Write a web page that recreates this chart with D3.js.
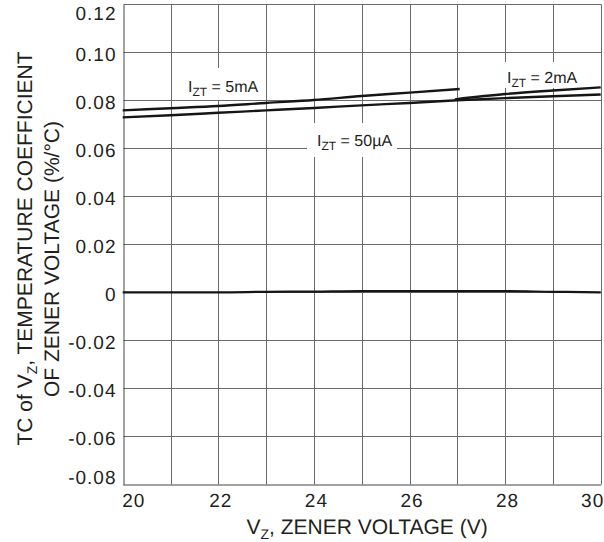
<!DOCTYPE html>
<html>
<head>
<meta charset="utf-8">
<script src="https://cdn.jsdelivr.net/npm/d3@7"></script>
<style>
  html, body { margin: 0; padding: 0; background: #fff; }
  svg { display: block; font-family: "Liberation Sans", Arial, sans-serif; }
  text { text-rendering: geometricPrecision; }
</style>
</head>
<body>
<svg id="chart" width="604" height="542"></svg>
<script>
// ---- data ----
const xTicks = [20, 22, 24, 26, 28, 30];
const yTicks = [-0.08, -0.06, -0.04, -0.02, 0, 0.02, 0.04, 0.06, 0.08, 0.10, 0.12];

const volts50uA = [20, 21, 22, 23, 24, 25, 26, 27, 28, 29, 30];
const tc50uA = [0.0729, 0.0738, 0.0748, 0.0758, 0.0768, 0.0779, 0.0789, 0.0800, 0.0809, 0.0817, 0.0824];

const volts5mA = [20, 21, 22, 23, 24, 25, 26, 27.05];
const tc5mA = [0.0758, 0.0767, 0.0776, 0.0789, 0.0801, 0.0818, 0.0832, 0.0847];

const volts2mA = [26.95, 28, 29, 30];
const tc2mA = [0.0804, 0.0826, 0.0841, 0.0854];

const voltsFlat = [20, 21, 22, 23, 24, 25, 26, 27, 28, 29, 30];
const tcFlat = [0, 0, 0, 0.0002, 0.0003, 0.0005, 0.0005, 0.0005, 0.0005, 0.0002, 0];

const labels = [
  { name: "5mA", x: 188, y: 92, box: [177, 68, 89, 32] },
  { name: "50µA", x: 317, y: 146, box: [307, 123, 90, 34] },
  { name: "2mA", x: 507, y: 83, box: [497, 62, 95, 26] },
];

// ---- layout ----
const plotLeft = 122.7, plotRight = 600.7, plotTop = 4.3, plotBottom = 484.3;
const tickFont = "19px";
const ink = "#231f20";

const svg = d3.select("#chart");

const x = d3.scaleLinear().domain([20, 30]).range([plotLeft, plotRight]);
const y = d3.scaleLinear().domain([-0.08, 0.12]).range([plotBottom, plotTop]);

const fmt = (d) => (d === 0 ? "0" : (d < 0 ? "-" : "") + Math.abs(d).toFixed(2));

// snap 1px lines to the pixel grid so they stay sharp
const crisp = (v) => Math.round(v) + 0.5;

// vertical grid, one per volt
svg.append("g")
  .selectAll("line")
  .data(d3.range(21, 31))
  .join("line")
  .attr("x1", (d) => crisp(x(d))).attr("x2", (d) => crisp(x(d)))
  .attr("y1", crisp(plotTop)).attr("y2", crisp(plotBottom))
  .attr("stroke", "#6a6a6a")
  .attr("stroke-width", 1);

// horizontal grid
svg.append("g")
  .selectAll("line")
  .data(yTicks.filter((d) => d > -0.08))
  .join("line")
  .attr("x1", crisp(plotLeft)).attr("x2", crisp(plotRight))
  .attr("y1", (d) => crisp(y(d))).attr("y2", (d) => crisp(y(d)))
  .attr("stroke", "#6a6a6a")
  .attr("stroke-width", 1);

// y axis
const yAxis = svg.append("g")
  .attr("transform", `translate(${crisp(plotLeft)},0)`)
  .call(d3.axisLeft(y).tickValues(yTicks).tickFormat(fmt).tickSize(0).tickPadding(7));
yAxis.select(".domain").attr("stroke", "#444");
yAxis.selectAll("text")
  .attr("font-size", tickFont)
  .attr("font-family", "Liberation Sans, Arial, sans-serif")
  .attr("letter-spacing", "1px")
  .attr("fill", ink)
  .attr("dy", (d) => (d === 0.12 ? "15px" : d === -0.08 ? "-1px" : "8.5px"));

// x axis
const xAxis = svg.append("g")
  .attr("transform", `translate(0,${crisp(plotBottom)})`)
  .call(d3.axisBottom(x).tickValues(xTicks).tickFormat(d3.format("d")).tickSize(0).tickPadding(9));
xAxis.select(".domain").attr("stroke", "#444");
xAxis.selectAll("text")
  .attr("font-size", tickFont)
  .attr("font-family", "Liberation Sans, Arial, sans-serif")
  .attr("letter-spacing", "1px")
  .attr("fill", ink)
  .attr("text-anchor", (d) => (d === 20 ? "start" : d === 30 ? "end" : "middle"))
  .attr("dx", (d) => (d === 20 ? "-1px" : d === 30 ? "3px" : "2px"));

// white boxes behind curve labels (they cut the grid)
svg.append("g")
  .selectAll("rect")
  .data(labels)
  .join("rect")
  .attr("x", (d) => d.box[0]).attr("y", (d) => d.box[1])
  .attr("width", (d) => d.box[2]).attr("height", (d) => d.box[3])
  .attr("fill", "#fff");

// curves
const line = d3.line()
  .x((d) => x(d[0]))
  .y((d) => y(d[1]))
  .curve(d3.curveMonotoneX);

const series = [
  { xs: volts50uA, ys: tc50uA, w: 2.4 },
  { xs: volts5mA, ys: tc5mA, w: 2.4 },
  { xs: volts2mA, ys: tc2mA, w: 2.4 },
  { xs: voltsFlat, ys: tcFlat, w: 2.2 },
];

svg.append("g")
  .selectAll("path")
  .data(series)
  .join("path")
  .attr("d", (s) => line(d3.zip(s.xs, s.ys)))
  .attr("fill", "none")
  .attr("stroke", "#151515")
  .attr("stroke-width", (s) => s.w);

// curve labels: I_ZT = ...
const lab = svg.append("g")
  .selectAll("text")
  .data(labels)
  .join("text")
  .attr("x", (d) => d.x)
  .attr("y", (d) => d.y)
  .attr("font-size", "16px")
  .attr("fill", ink);
lab.append("tspan").text("I");
lab.append("tspan").attr("font-size", "12px").attr("dy", "4").text("ZT");
lab.append("tspan").attr("dy", "-4").text((d) => ` = ${d.name}`);

// x title
const xt = svg.append("text")
  .attr("x", 246.5)
  .attr("y", 534)
  .attr("font-size", "21px")
  .attr("fill", ink);
xt.append("tspan").text("V");
xt.append("tspan").attr("font-size", "14px").attr("dy", "5").text("Z");
xt.append("tspan").attr("dy", "-5").text(", ZENER VOLTAGE (V)");

// y title, two lines
const yt1 = svg.append("text")
  .attr("transform", "translate(32,248.5) rotate(-90)")
  .attr("text-anchor", "middle")
  .attr("font-size", "21px")
  .attr("fill", ink);
yt1.append("tspan").text("TC of V");
yt1.append("tspan").attr("font-size", "14px").attr("dy", "5").text("Z");
yt1.append("tspan").attr("dy", "-5").text(", TEMPERATURE COEFFICIENT");

svg.append("text")
  .attr("transform", "translate(59,259) rotate(-90)")
  .attr("text-anchor", "middle")
  .attr("font-size", "21px")
  .attr("fill", ink)
  .text("OF ZENER VOLTAGE (%/°C)");
</script>
</body>
</html>
